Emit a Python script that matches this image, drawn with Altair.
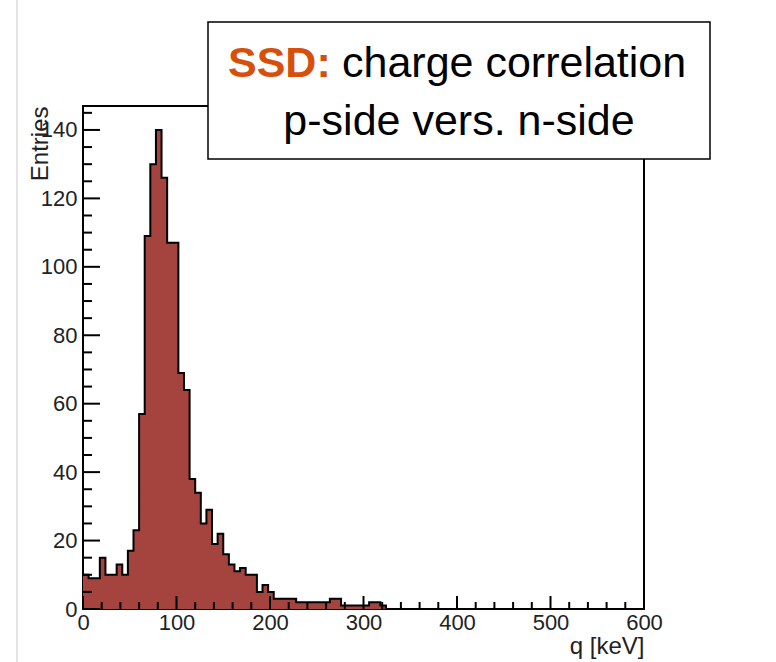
import altair as alt
import pandas as pd

# ---------------- data ----------------
BIN_WIDTH = 6  # keV per bin, 100 bins over 0-600
counts = [10, 9, 9, 15, 10, 10, 13, 10, 17, 23,
          57, 109, 130, 140, 126, 107, 107, 69, 64, 38,
          34, 25, 29, 19, 22, 16, 13, 11, 12, 10,
          10, 5, 7, 5, 3, 3, 3, 3, 2, 2,
          2, 2, 2, 2, 3, 3, 1, 1, 1, 1,
          1, 2, 2, 1, 0, 0, 0, 0, 0, 0,
          0, 0, 0, 0, 0, 0, 0, 0, 0, 0,
          0, 0, 0, 0, 0, 0, 0, 0, 0, 0,
          0, 0, 0, 0, 0, 0, 0, 0, 0, 0,
          0, 0, 0, 0, 0, 0, 0, 0, 0, 0]
bin_lo = [i * BIN_WIDTH for i in range(len(counts))]

x_major = [0, 100, 200, 300, 400, 500, 600]
x_minor = [v for v in range(20, 600, 20) if v % 100 != 0]
y_major = [0, 20, 40, 60, 80, 100, 120, 140]
y_minor = [v for v in range(5, 150, 5) if v % 20 != 0]

title_bold = "SSD:"
title_rest = "charge correlation"
title_line2 = "p-side vers. n-side"
x_title = "q [keV]"
y_title = "Entries"

FILL = "#a5443f"
ORANGE = "#d6500b"
FONT = "Liberation Sans"
LABEL_COLOR = "#222222"

# step data: left edges plus closing point at 600
hist = pd.DataFrame({"q": bin_lo + [600], "n": counts + [counts[-1]]})

xs = alt.Scale(domain=[0, 600], nice=False, zero=False)
ys = alt.Scale(domain=[0, 147], nice=False, zero=False)

x_axis = alt.Axis(values=x_major, ticks=False, domain=False, grid=False,
                  labelFlush=False, labelOverlap=False, labelPadding=3,
                  labelFont=FONT, labelFontSize=22, labelColor=LABEL_COLOR,
                  title=x_title, titleFont=FONT, titleFontSize=24,
                  titleFontWeight="normal", titleColor=LABEL_COLOR,
                  titleAnchor="end", titleAlign="right", titleX=561, titleY=44,
                  titleBaseline="alphabetic")
y_axis = alt.Axis(values=y_major, ticks=False, domain=False, grid=False,
                  labelPadding=6, labelFont=FONT, labelFontSize=22,
                  labelColor=LABEL_COLOR, labelOverlap=False,
                  title=y_title, titleFont=FONT, titleFontSize=24,
                  titleFontWeight="normal", titleColor=LABEL_COLOR,
                  titleAngle=270, titleAlign="right", titleAnchor="end",
                  titleX=-36, titleY=0, titleBaseline="alphabetic")

X = alt.X("q:Q", scale=xs, axis=x_axis)
Y = alt.Y("n:Q", scale=ys, axis=y_axis)

area = alt.Chart(hist).mark_area(interpolate="step-after", color=FILL, opacity=1).encode(x=X, y=Y)
outline = alt.Chart(hist).mark_line(interpolate="step-after", color="black", strokeWidth=2).encode(x=X, y=Y)

def ytick(vals, length):
    return alt.Chart(pd.DataFrame({"n": vals})).mark_rule(color="black", strokeWidth=2).encode(
        y=Y, x=alt.value(0), x2=alt.value(length))

def xtick(vals, length):
    return alt.Chart(pd.DataFrame({"q": vals})).mark_rule(color="black", strokeWidth=2).encode(
        x=X, y=alt.value(503), y2=alt.value(503 - length))

one = pd.DataFrame({"k": [0]})
edge = alt.Chart(one).mark_rule(color="#e4e4e4", strokeWidth=2).encode(
    x=alt.value(-66), y=alt.value(-106), y2=alt.value(556))

box = alt.Chart(one).mark_rect(fill="white", stroke="black", strokeWidth=1.5).encode(
    x=alt.value(125), x2=alt.value(627), y=alt.value(-84), y2=alt.value(53))

t1 = alt.Chart(pd.DataFrame({"t": [title_bold]})).mark_text(
    font=FONT, fontSize=43, fontWeight="bold", color=ORANGE, align="left",
    baseline="alphabetic").encode(text="t:N", x=alt.value(145), y=alt.value(-29))
t2 = alt.Chart(pd.DataFrame({"t": [title_rest]})).mark_text(
    font=FONT, fontSize=43, color="black", align="left",
    baseline="alphabetic").encode(text="t:N", x=alt.value(259), y=alt.value(-29))
t3 = alt.Chart(pd.DataFrame({"t": [title_line2]})).mark_text(
    font=FONT, fontSize=43, color="black", align="center",
    baseline="alphabetic").encode(text="t:N", x=alt.value(376), y=alt.value(29))

chart = alt.layer(
    area, outline,
    ytick(y_major, 17), ytick(y_minor, 9),
    xtick(x_major, 13), xtick(x_minor, 7),
    edge, box, t1, t2, t3,
).properties(
    width=561, height=503,
    autosize=alt.AutoSizeParams(type="none"),
    padding={"left": 83, "top": 106, "right": 132, "bottom": 53},
    background="white",
).configure_view(stroke="black", strokeWidth=2)

chart.save("out.html", embed_options={"renderer": "svg", "actions": False})
